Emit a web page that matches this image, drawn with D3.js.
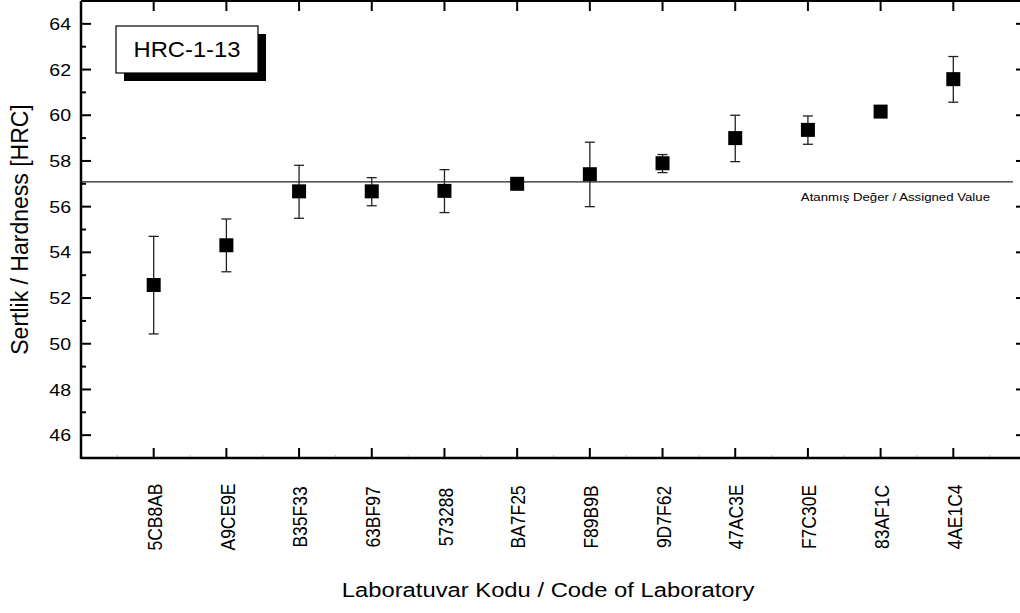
<!DOCTYPE html>
<html>
<head>
<meta charset="utf-8">
<script src="https://cdn.jsdelivr.net/npm/d3@7"></script>
<style>
  body { margin: 0; background: #fff; }
  text { font-family: Arial, "Liberation Sans", sans-serif; fill: #000; }
</style>
</head>
<body>
<svg id="chart"></svg>
<script>
// lab codes, sorted by result
var labs = ["5CB8AB", "A9CE9E", "B35F33", "63BF97", "573288", "BA7F25",
            "F89B9B", "9D7F62", "47AC3E", "F7C30E", "83AF1C", "4AE1C4"];
var values = [52.57, 54.31, 56.67, 56.67, 56.69, 57.00, 57.42, 57.90, 59.00, 59.36, 60.16, 61.58];
var upper  = [54.70, 55.46, 57.81, 57.27, 57.62, 57.00, 58.82, 58.28, 60.00, 59.97, 60.16, 62.57];
var lower  = [50.43, 53.15, 55.49, 56.04, 55.74, 57.00, 56.00, 57.49, 57.97, 58.73, 60.16, 60.57];
var assigned = 57.08;
var yTicks = [46, 48, 50, 52, 54, 56, 58, 60, 62, 64];
var yMinor = [45, 47, 49, 51, 53, 55, 57, 59, 61, 63, 65];

var width = 1020, height = 613;
var sx = 1.15; // picture is a bit wider than tall

var svg = d3.select("#chart")
    .attr("width", width)
    .attr("height", height);

var x = d3.scaleLinear().domain([0, 13]).range([81, 1026]);
var y = d3.scaleLinear().domain([45, 65]).range([458, 1]);

var idx = d3.range(1, labs.length + 1);
var halves = d3.range(0.5, 13, 1);

// ticks
var ticks = svg.append("g").attr("stroke", "#000");

ticks.selectAll(".lmaj").data(yTicks).enter().append("line")
    .attr("x1", x(0)).attr("x2", x(0) + 10)
    .attr("y1", function(d) { return y(d); }).attr("y2", function(d) { return y(d); })
    .attr("stroke-width", 2);
ticks.selectAll(".lmin").data(yMinor).enter().append("line")
    .attr("x1", x(0)).attr("x2", x(0) + 5)
    .attr("y1", function(d) { return y(d); }).attr("y2", function(d) { return y(d); })
    .attr("stroke-width", 2);
ticks.selectAll(".rmaj").data(yTicks).enter().append("line")
    .attr("x1", x(13)).attr("x2", x(13) - 10)
    .attr("y1", function(d) { return y(d); }).attr("y2", function(d) { return y(d); })
    .attr("stroke-width", 2);
ticks.selectAll(".bmaj").data(idx).enter().append("line")
    .attr("x1", function(d) { return x(d); }).attr("x2", function(d) { return x(d); })
    .attr("y1", y(45)).attr("y2", y(45) - 10)
    .attr("stroke-width", 2);
ticks.selectAll(".bmin").data(halves).enter().append("line")
    .attr("x1", function(d) { return x(d); }).attr("x2", function(d) { return x(d); })
    .attr("y1", y(45)).attr("y2", y(45) - 3)
    .attr("stroke", "#bbb")
    .attr("stroke-width", 1);
ticks.selectAll(".tmaj").data(idx).enter().append("line")
    .attr("x1", function(d) { return x(d); }).attr("x2", function(d) { return x(d); })
    .attr("y1", y(65)).attr("y2", y(65) + 10)
    .attr("stroke-width", 2);

// frame
svg.append("line")
    .attr("x1", x(0)).attr("x2", x(13)).attr("y1", y(45)).attr("y2", y(45))
    .attr("stroke", "#000").attr("stroke-width", 2.5);
svg.append("line")
    .attr("x1", x(0)).attr("x2", x(0)).attr("y1", y(65)).attr("y2", y(45) + 1)
    .attr("stroke", "#000").attr("stroke-width", 2.5);
svg.append("line")
    .attr("x1", x(0)).attr("x2", x(13)).attr("y1", y(65)).attr("y2", y(65))
    .attr("stroke", "#000").attr("stroke-width", 2);

// y tick labels
svg.selectAll(".ylab").data(yTicks).enter().append("text")
    .attr("transform", function(d) { return "translate(71," + y(d) + ") scale(" + sx + ",1)"; })
    .attr("dy", "0.36em")
    .attr("text-anchor", "end")
    .style("font-size", "17px")
    .text(function(d) { return d; });

// x tick labels (rotated)
svg.selectAll(".xlab").data(labs).enter().append("text")
    .attr("transform", function(d, i) {
      return "translate(" + (x(i + 1) + 1) + ",517) scale(" + sx + ",1) rotate(-90)";
    })
    .attr("dy", "0.36em")
    .attr("text-anchor", "middle")
    .style("font-size", "17.5px")
    .text(function(d) { return d; });

// axis titles
svg.append("text")
    .attr("transform", "translate(548,597) scale(1.19,1)")
    .attr("text-anchor", "middle")
    .style("font-size", "20px")
    .text("Laboratuvar Kodu / Code of Laboratory");

svg.append("text")
    .attr("transform", "translate(20," + y(55) + ") rotate(-90)")
    .attr("dy", "0.36em")
    .attr("text-anchor", "middle")
    .style("font-size", "23px")
    .text("Sertlik / Hardness [HRC]");

// assigned value line
svg.append("line")
    .attr("x1", x(0)).attr("x2", x(12.82))
    .attr("y1", y(assigned)).attr("y2", y(assigned))
    .attr("stroke", "#222").attr("stroke-width", 1.3);
svg.append("text")
    .attr("transform", "translate(990," + (y(assigned) + 19) + ") scale(" + sx + ",1)")
    .attr("text-anchor", "end")
    .style("font-size", "11.5px")
    .text("Atanmış Değer / Assigned Value");

// error bars
var eb = svg.append("g").attr("stroke", "#222").attr("stroke-width", 1.3);
eb.selectAll(".v").data(labs).enter().append("line")
    .attr("x1", function(d, i) { return x(i + 1); })
    .attr("x2", function(d, i) { return x(i + 1); })
    .attr("y1", function(d, i) { return y(upper[i]); })
    .attr("y2", function(d, i) { return y(lower[i]); });
eb.selectAll(".cu").data(labs).enter().append("line")
    .attr("x1", function(d, i) { return x(i + 1) - 5; })
    .attr("x2", function(d, i) { return x(i + 1) + 5; })
    .attr("y1", function(d, i) { return y(upper[i]); })
    .attr("y2", function(d, i) { return y(upper[i]); });
eb.selectAll(".cl").data(labs).enter().append("line")
    .attr("x1", function(d, i) { return x(i + 1) - 5; })
    .attr("x2", function(d, i) { return x(i + 1) + 5; })
    .attr("y1", function(d, i) { return y(lower[i]); })
    .attr("y2", function(d, i) { return y(lower[i]); });

// markers
svg.selectAll(".pt").data(values).enter().append("rect")
    .attr("x", function(d, i) { return x(i + 1) - 7; })
    .attr("y", function(d) { return y(d) - 7; })
    .attr("width", 14).attr("height", 14)
    .attr("fill", "#000");

// label box with shadow
var box = svg.append("g");
box.append("rect")
    .attr("x", 124).attr("y", 34).attr("width", 142).attr("height", 47)
    .attr("fill", "#000");
box.append("rect")
    .attr("x", 116).attr("y", 26).attr("width", 142).attr("height", 47)
    .attr("fill", "#fff").attr("stroke", "#000").attr("stroke-width", 1.2);
box.append("text")
    .attr("transform", "translate(187,57) scale(1.08,1)")
    .attr("text-anchor", "middle")
    .style("font-size", "22px")
    .text("HRC-1-13");
</script>
</body>
</html>
